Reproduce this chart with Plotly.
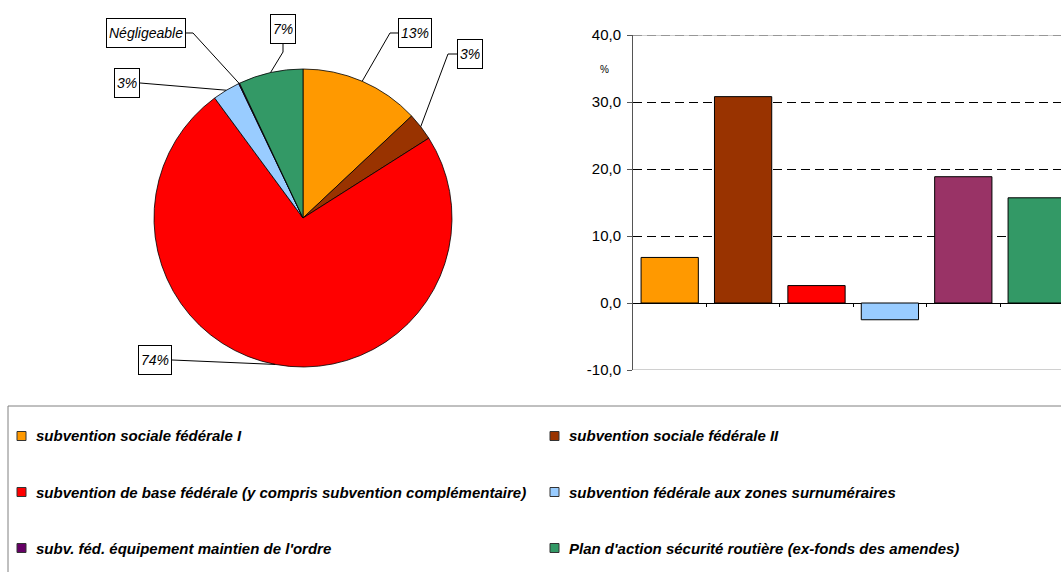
import math
import plotly.graph_objects as go

W, H = 1061, 572

# ---------------- data ----------------
categories = [
    "subvention sociale fédérale I",
    "subvention sociale fédérale II",
    "subvention de base fédérale (y compris subvention complémentaire)",
    "subvention fédérale aux zones surnuméraires",
    "subv. féd. équipement maintien de l'ordre",
    "Plan d'action sécurité routière (ex-fonds des amendes)",
]
pie_shares = [13.0, 3.0, 73.9, 3.0, 0.1, 7.0]
pie_labels = ["13%", "3%", "74%", "3%", "Négligeable", "7%"]
bar_values = [6.8, 30.8, 2.6, -2.5, 18.85, 15.7]
y_tickvals = [-10, 0, 10, 20, 30, 40]
y_ticktext = ["-10,0", "0,0", "10,0", "20,0", "30,0", "40,0"]

# ---------------- styles ----------------
pie_colors = ["#FF9900", "#993300", "#FF0000", "#99CCFF", "#660066", "#339966"]
bar_colors = ["#FF9900", "#993300", "#FF0000", "#99CCFF", "#993366", "#339966"]
legend_colors = pie_colors

def px(x):
    return x / W

def py(y):
    return 1 - y / H

# pie geometry (pixels)
PCX, PCY, PR = 303, 218, 149

# bar plot area (pixels)
BX0, BY_TOP, BY_BOT = 633, 35, 370
CAT_W = 73.4
YMIN, YMAX = -10, 40

fig = go.Figure()

fig.add_trace(go.Pie(
    values=pie_shares,
    labels=categories,
    marker=dict(colors=pie_colors, line=dict(color="#000000", width=0.8)),
    sort=False,
    direction="clockwise",
    rotation=0,
    textinfo="none",
    showlegend=False,
    automargin=False,
    domain=dict(x=[px(PCX - PR), px(PCX + PR)], y=[py(PCY + PR), py(PCY - PR)]),
))

xs = list(range(len(bar_values)))
fig.add_trace(go.Bar(
    x=xs,
    y=bar_values,
    marker=dict(color=bar_colors, line=dict(color="#000000", width=1)),
    width=0.78,
    showlegend=False,
))

ydom = [py(BY_BOT), py(BY_TOP)]
zero_pos = ydom[0] + (0 - YMIN) / (YMAX - YMIN) * (ydom[1] - ydom[0])
x_end = -0.5 + (W - BX0) / CAT_W

fig.update_layout(
    template="none",
    width=W, height=H,
    autosize=False,
    margin=dict(l=0, r=0, t=0, b=0, pad=0, autoexpand=False),
    paper_bgcolor="white", plot_bgcolor="white",
    showlegend=False,
    font=dict(family="Liberation Sans, Arial, sans-serif", color="#000000"),
    xaxis=dict(
        domain=[px(BX0), 1.0],
        range=[-0.5, x_end],
        anchor="free", position=zero_pos,
        automargin=False,
        showgrid=False, zeroline=False, showline=False,
        ticks="outside", ticklen=3, tickwidth=1, tickcolor="#000000",
        tickvals=[i + 0.5 for i in range(len(bar_values) - 1)],
        showticklabels=False,
        fixedrange=True,
    ),
    yaxis=dict(
        domain=ydom,
        range=[YMIN, YMAX],
        anchor="x",
        automargin=False,
        tickvals=y_tickvals, ticktext=y_ticktext,
        tickfont=dict(size=15, family="Liberation Sans, Arial, sans-serif"),
        showgrid=True, gridcolor="#000000", gridwidth=1, griddash="9px,5px",
        zeroline=True, zerolinecolor="#000000", zerolinewidth=1,
        showline=True, linecolor="#555555", linewidth=1,
        ticks="outside", ticklen=5, tickcolor="#555555",
        ticklabelstandoff=3,
        fixedrange=True,
    ),
)

shapes = []
annotations = []

# plot area top/bottom borders, and dashed grid on the top border
for yv in (YMIN, YMAX):
    shapes.append(dict(type="line", xref="x domain", yref="y", x0=0, x1=1, y0=yv, y1=yv,
                       line=dict(color="#A0A0A0", width=1)))
shapes.append(dict(type="line", xref="x domain", yref="y", x0=0, x1=1, y0=YMAX, y1=YMAX,
                   line=dict(color="#606060", width=1, dash="9px,5px")))

annotations.append(dict(text="%", x=px(604), y=py(62), xref="paper", yref="paper",
                        showarrow=False, font=dict(size=10)))

# ---------------- pie labels with leader lines ----------------
label_layout = [
    dict(pt=(398, 33), xa="left", ya="middle", elbow=(-8, 0)),      # 13%
    dict(pt=(457, 54), xa="left", ya="middle", elbow=(-9, 0)),      # 3% brown
    dict(pt=(172, 360), xa="right", ya="middle", elbow=None),       # 74%
    dict(pt=(140, 83), xa="right", ya="middle", elbow=None),        # 3% light blue
    dict(pt=(186, 33), xa="right", ya="middle", elbow=(7, 0)),      # Négligeable
    dict(pt=(283, 44), xa="center", ya="bottom", elbow=(0, 8)),     # 7%
]
total = sum(pie_shares)
cum = 0.0
for i, v in enumerate(pie_shares):
    mid = (cum + v / 2) / total
    cum += v
    th = 2 * math.pi * mid
    ax_ = PCX + PR * math.sin(th)
    ay_ = PCY - PR * math.cos(th)
    L = label_layout[i]
    bx, by = L["pt"]
    pts = [(ax_, ay_)]
    if L["elbow"] is not None:
        pts.append((bx + L["elbow"][0], by + L["elbow"][1]))
    pts.append((bx, by))
    path = "M " + " L ".join(f"{px(a):.5f},{py(b):.5f}" for a, b in pts)
    shapes.append(dict(type="path", xref="paper", yref="paper", path=path,
                       line=dict(color="#000000", width=1)))
    annotations.append(dict(
        text=f"<i>{pie_labels[i]}</i>", x=px(bx), y=py(by), xref="paper", yref="paper",
        xanchor=L["xa"], yanchor=L["ya"], showarrow=False,
        font=dict(size=14), bordercolor="#000000", borderwidth=1, borderpad=2,
        bgcolor="white", height=24,
    ))

# ---------------- legend box ----------------
shapes.append(dict(type="rect", xref="paper", yref="paper",
                   x0=px(8), x1=1.2, y0=-0.2, y1=py(406),
                   line=dict(color="#808080", width=1), fillcolor="rgba(0,0,0,0)"))
col_x = [17, 550]
row_y = [436, 492, 548]
for i, name in enumerate(categories):
    r, c = divmod(i, 2)
    x0, yc = col_x[c], row_y[r]
    shapes.append(dict(type="rect", xref="paper", yref="paper",
                       x0=px(x0), x1=px(x0 + 9), y0=py(yc + 4.5), y1=py(yc - 4.5),
                       fillcolor=legend_colors[i], line=dict(color="#333333", width=1)))
    annotations.append(dict(text=f"<b><i>{name}</i></b>", x=px(x0 + 17), y=py(yc),
                            xref="paper", yref="paper", xanchor="left", yanchor="middle",
                            showarrow=False, font=dict(size=15)))

fig.update_layout(shapes=shapes, annotations=annotations)
fig.write_html("out.html")
